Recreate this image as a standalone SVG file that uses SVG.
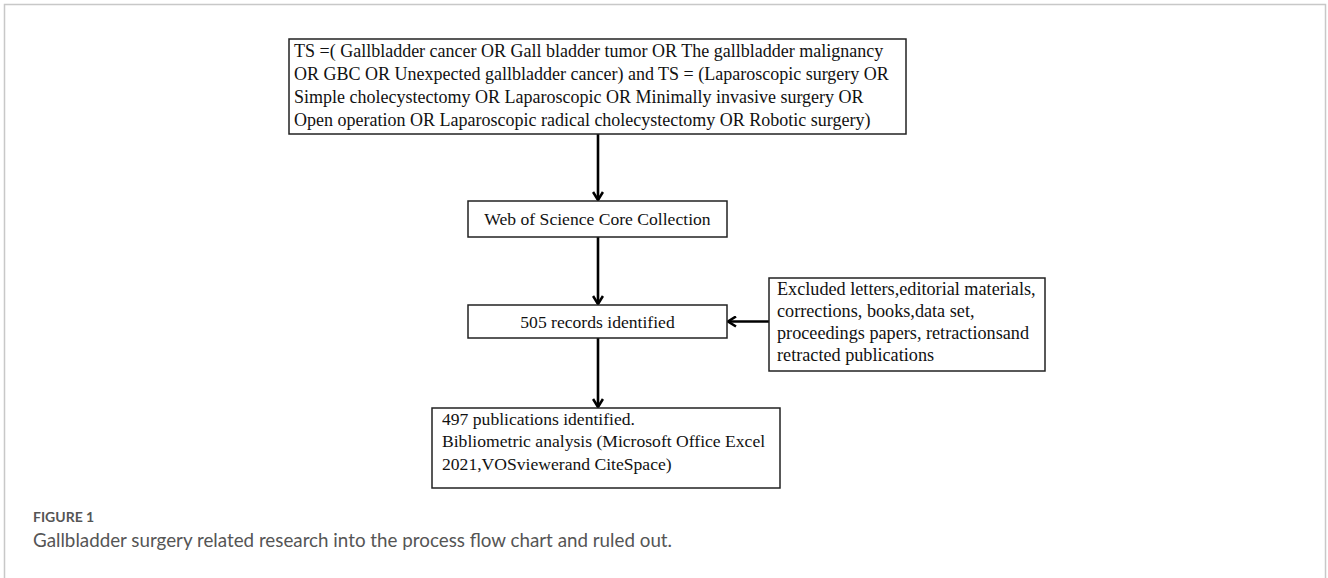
<svg xmlns="http://www.w3.org/2000/svg" width="1328" height="578" viewBox="0 0 1328 578">
<style>
.box{fill:#fff;stroke:#222;stroke-width:1.5}
.t{font-family:"Liberation Serif","Times New Roman",serif;font-size:17.6px;fill:#111}
.tq{font-size:18px}
.tx{font-size:18.2px}
.c{stroke:#000;stroke-width:2.6;fill:none;marker-end:url(#ah)}
.cap1{font-family:Lato,"Open Sans",sans-serif;font-size:14px;font-weight:bold;fill:#555}
.cap2{font-family:Lato,"Open Sans",sans-serif;font-size:18.8px;fill:#555}
</style>
<defs>
<marker id="ah" viewBox="0 0 12 12" refX="10" refY="6" markerWidth="12" markerHeight="12" markerUnits="userSpaceOnUse" orient="auto">
<path d="M2,1 L10,6 L2,11" fill="none" stroke="#000" stroke-width="2.6"/>
</marker>
</defs>
<rect x="4.5" y="4.5" width="1321" height="620" fill="none" stroke="#c8c8c8" stroke-width="1.5"/>
<g id="connectors">
<line class="c" x1="598" y1="134" x2="598" y2="200"/>
<line class="c" x1="598" y1="237" x2="598" y2="304"/>
<line class="c" x1="769" y1="321.5" x2="728" y2="321.5"/>
<line class="c" x1="598" y1="338" x2="598" y2="407"/>
</g>
<g id="query">
<rect class="box" x="289" y="39" width="617" height="95"/>
<text class="t tq" x="294" y="57">TS =( Gallbladder cancer OR Gall bladder tumor OR The gallbladder malignancy</text>
<text class="t tq" x="294" y="80">OR GBC OR Unexpected gallbladder cancer) and TS = (Laparoscopic surgery OR</text>
<text class="t tq" x="294" y="103">Simple cholecystectomy OR Laparoscopic OR Minimally invasive surgery OR</text>
<text class="t tq" x="294" y="126">Open operation OR Laparoscopic radical cholecystectomy OR Robotic surgery)</text>
</g>
<g id="wos">
<rect class="box" x="468" y="201" width="259" height="36"/>
<text class="t" x="597.5" y="225" text-anchor="middle">Web of Science Core Collection</text>
</g>
<g id="records">
<rect class="box" x="468" y="305" width="259" height="33"/>
<text class="t" x="597.5" y="327.5" text-anchor="middle">505 records identified</text>
</g>
<g id="excluded">
<rect class="box" x="769" y="278" width="276" height="93"/>
<text class="t tx" x="777" y="295">Excluded letters,editorial materials,</text>
<text class="t tx" x="777" y="317">corrections, books,data set,</text>
<text class="t tx" x="777" y="339">proceedings papers, retractionsand</text>
<text class="t tx" x="777" y="361">retracted publications</text>
</g>
<g id="publications">
<rect class="box" x="432" y="408" width="348" height="80"/>
<text class="t" x="442" y="425">497 publications identified.</text>
<text class="t" x="442" y="447">Bibliometric analysis (Microsoft Office Excel</text>
<text class="t" x="442" y="470">2021,VOSviewerand CiteSpace)</text>
</g>
<text class="cap1" x="33" y="522">FIGURE 1</text>
<text class="cap2" x="33" y="547">Gallbladder surgery related research into the process flow chart and ruled out.</text>
</svg>
